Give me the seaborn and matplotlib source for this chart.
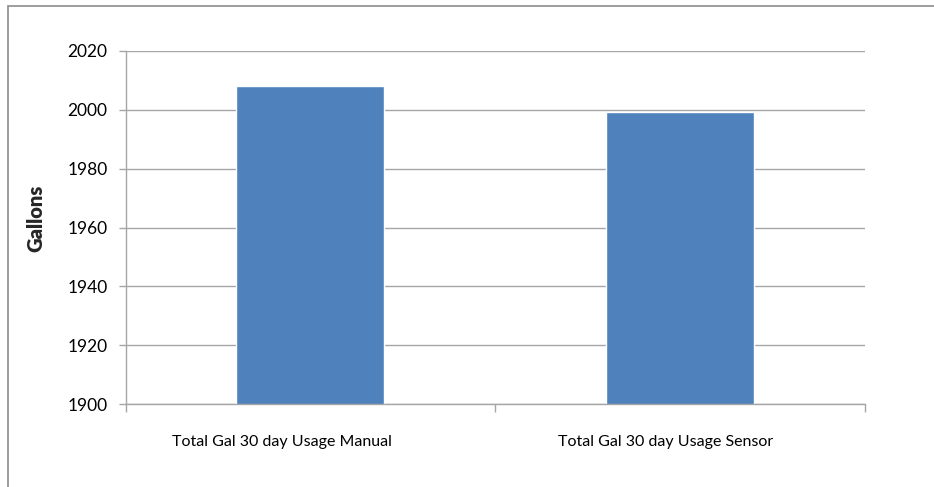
import matplotlib
matplotlib.use("Agg")
import matplotlib.pyplot as plt
import matplotlib.patches as mpatches
import matplotlib.transforms as mtransforms
import pandas as pd
import seaborn as sns

# ─── Data ────────────────────────────────────────────────
categories = ["Total Gal 30 day Usage Manual", "Total Gal 30 day Usage Sensor"]
gallons = [2008.1, 1999.4]
y_ticks = [1900, 1920, 1940, 1960, 1980, 2000, 2020]

BLUE = "#4F81BD"
GRID = "#A6A6A6"

sns.set_theme(style="white")
plt.rcParams["font.family"] = ["Lato", "DejaVu Sans"]

df = pd.DataFrame({"category": categories, "gallons": gallons})

fig = plt.figure(figsize=(9.34, 4.87), dpi=100)
ax = fig.add_axes([0.1344, 0.1704, 0.7917, 0.7249])

sns.barplot(data=df, x="category", y="gallons", color=BLUE, width=0.4,
            saturation=1, ax=ax)

ax.set_ylim(y_ticks[0], y_ticks[-1])
ax.set_xlim(-0.5, len(categories) - 0.5)
ax.set_yticks(y_ticks)
ax.yaxis.grid(True, color=GRID, linewidth=1)
ax.set_axisbelow(True)

# category boundary ticks like Excel
ax.set_xticks([i - 0.5 for i in range(len(categories) + 1)], minor=True)
ax.tick_params(axis="x", which="major", length=0, labelsize=11.5, pad=22,
               colors="#000000")
ax.tick_params(axis="x", which="minor", length=6, width=1, color=GRID,
               direction="out", bottom=True)
ax.tick_params(axis="y", length=5, width=1, color=GRID, direction="out",
               left=True, labelsize=12.5, pad=8, colors="#000000")

# nudge category labels left a little, as in the original rendering
for lbl, dx in zip(ax.get_xticklabels(), [-28, -14]):
    lbl.set_transform(lbl.get_transform() +
                      mtransforms.ScaledTranslation(dx / 100, 0, fig.dpi_scale_trans))

for side in ["top", "right"]:
    ax.spines[side].set_visible(False)
for side in ["left", "bottom"]:
    ax.spines[side].set_color(GRID)
    ax.spines[side].set_linewidth(1)

ax.set_xlabel("")
ax.set_ylabel("Gallons", fontsize=14.5, fontweight="heavy")
ax.yaxis.set_label_coords(-0.108, 0.527)

# outer chart border (clipped at right and bottom)
fig.patches.append(mpatches.Rectangle((8 / 934, -0.1), 1.2, 1.1 - 6 / 487,
                                      transform=fig.transFigure, fill=False,
                                      edgecolor="#8C8C8C", linewidth=1.2))

fig.savefig("out.png", dpi=100)
